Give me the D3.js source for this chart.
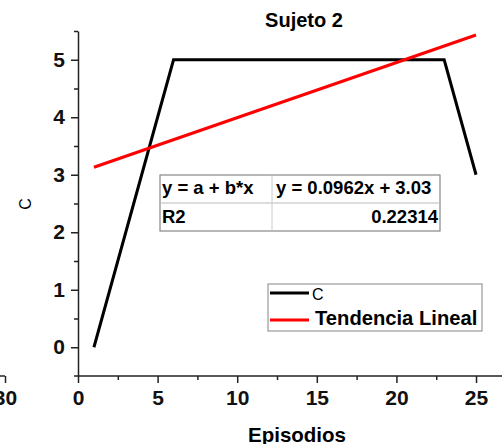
<!DOCTYPE html>
<html>
<head>
<meta charset="utf-8">
<script src="https://cdn.jsdelivr.net/npm/d3@7"></script>
<style>
  body { margin: 0; background: #fff; }
  svg { display: block; font-family: "Liberation Sans", Arial, sans-serif; }
  .axis path, .axis line { stroke: #222; stroke-width: 1.5; }
  .axis text { font-size: 21px; font-weight: bold; fill: #111; }
</style>
</head>
<body>
<div class="chart"></div>
<script>
// data
var episodios = [1, 2, 3, 4, 5, 6, 7, 8, 9, 10, 11, 12, 13, 14, 15, 16, 17, 18, 19, 20, 21, 22, 23, 24, 25];
var valoresC = [0, 1, 2, 3, 4, 5, 5, 5, 5, 5, 5, 5, 5, 5, 5, 5, 5, 5, 5, 5, 5, 5, 5, 4, 3];
var tendenciaX = [1, 25];
var tendenciaY = [3.13, 5.43];
var xTicks = [0, 5, 10, 15, 20, 25];
var yTicks = [0, 1, 2, 3, 4, 5];
var tablaFilas = [["y = a + b*x", "y = 0.0962x + 3.03"], ["R2", "0.22314"]];
var leyenda = ["C", "Tendencia Lineal"];

var W = 502, H = 444;
var fmt = d3.format("d");

// scales
var x = d3.scaleLinear().domain([0, 26.6]).range([78, 501.5]);
var y = d3.scaleLinear().domain([-0.5, 5.5]).range([376, 31]);

var svg = d3.select(".chart")
    .append("svg")
    .attr("width", W)
    .attr("height", H);

// leftover piece of the neighbouring chart's x axis
var xFrag = d3.scaleLinear().domain([30, 31]).range([5, 21]);
svg.append("g")
    .classed("axis", true)
    .attr("transform", "translate(0,376)")
    .call(d3.axisBottom(xFrag).tickValues([30]).tickFormat(fmt).tickSize(7).tickSizeOuter(0).tickPadding(7))
    .select(".domain").attr("d", "M0,0H5");

// minor ticks
svg.append("g")
    .classed("axis", true)
    .attr("transform", "translate(0,376)")
    .call(d3.axisBottom(x).tickValues([2.5, 7.5, 12.5, 17.5, 22.5]).tickSize(4).tickFormat(""))
    .select(".domain").remove();
svg.append("g")
    .classed("axis", true)
    .attr("transform", "translate(78,0)")
    .call(d3.axisLeft(y).tickValues([0.5, 1.5, 2.5, 3.5, 4.5, 5.5]).tickSize(4).tickFormat(""))
    .select(".domain").remove();

// x axis
var gx = svg.append("g")
    .classed("axis", true)
    .attr("transform", "translate(0,376)")
    .call(d3.axisBottom(x).tickValues(xTicks).tickFormat(fmt).tickSize(7).tickSizeOuter(0).tickPadding(7));
gx.select(".domain").attr("d", "M74,0H502");

// y axis
svg.append("g")
    .classed("axis", true)
    .attr("transform", "translate(78,0)")
    .call(d3.axisLeft(y).tickValues(yTicks).tickFormat(fmt).tickSize(7).tickSizeOuter(0).tickPadding(6));

// axis titles
svg.append("text")
    .attr("x", 297)
    .attr("y", 442)
    .style("text-anchor", "middle")
    .style("font-size", "20.5px")
    .style("font-weight", "bold")
    .text("Episodios");

svg.append("text")
    .attr("transform", "translate(31,204) rotate(-90)")
    .style("text-anchor", "middle")
    .style("font-size", "16px")
    .text("C");

svg.append("text")
    .attr("x", 304)
    .attr("y", 27)
    .style("text-anchor", "middle")
    .style("font-size", "20px")
    .style("font-weight", "bold")
    .text("Sujeto 2");

// data line
var line = d3.line()
    .x(function(d) { return x(d[0]); })
    .y(function(d) { return y(d[1]); });

svg.append("path")
    .datum(d3.zip(episodios, valoresC))
    .attr("d", line)
    .attr("fill", "none")
    .attr("stroke", "#000")
    .attr("stroke-width", 3)
    .attr("stroke-linejoin", "miter");

// fit line
svg.append("path")
    .datum(d3.zip(tendenciaX, tendenciaY))
    .attr("d", line)
    .attr("fill", "none")
    .attr("stroke", "#ff0000")
    .attr("stroke-width", 3);

// regression table
var tab = svg.append("g").attr("transform", "translate(160,175)");
tab.append("rect")
    .attr("width", 280).attr("height", 56)
    .attr("fill", "#fff").attr("stroke", "#888").attr("stroke-width", 1.2);
tab.append("line").attr("x1", 0).attr("x2", 280).attr("y1", 28).attr("y2", 28)
    .attr("stroke", "#bbb").attr("stroke-width", 1);
tab.append("line").attr("x1", 112).attr("x2", 112).attr("y1", 0).attr("y2", 56)
    .attr("stroke", "#ccc").attr("stroke-width", 1);
tablaFilas.forEach(function(fila, i) {
  tab.append("text")
      .attr("x", 2).attr("y", 19 + i * 29)
      .style("font-size", "18.5px").style("font-weight", "bold")
      .text(fila[0]);
  tab.append("text")
      .attr("x", i === 0 ? 116 : 278).attr("y", 19 + i * 29)
      .style("text-anchor", i === 0 ? "start" : "end")
      .style("font-size", "18.5px").style("font-weight", "bold")
      .text(fila[1]);
});

// legend
var leg = svg.append("g").attr("transform", "translate(268,284)");
leg.append("rect")
    .attr("width", 214).attr("height", 47)
    .attr("fill", "#fff").attr("stroke", "#999").attr("stroke-width", 1.2);
var legColors = ["#000", "#ff0000"];
leyenda.forEach(function(name, i) {
  var ly = i === 0 ? 9 : 36;
  leg.append("line")
      .attr("x1", 2).attr("x2", 41).attr("y1", ly).attr("y2", ly)
      .attr("stroke", legColors[i]).attr("stroke-width", 3);
  leg.append("text")
      .attr("x", i === 0 ? 44 : 47)
      .attr("y", i === 0 ? 16 : 41)
      .style("font-size", i === 0 ? "16px" : "20.2px")
      .style("font-weight", i === 0 ? "normal" : "bold")
      .text(name);
});
</script>
</body>
</html>
